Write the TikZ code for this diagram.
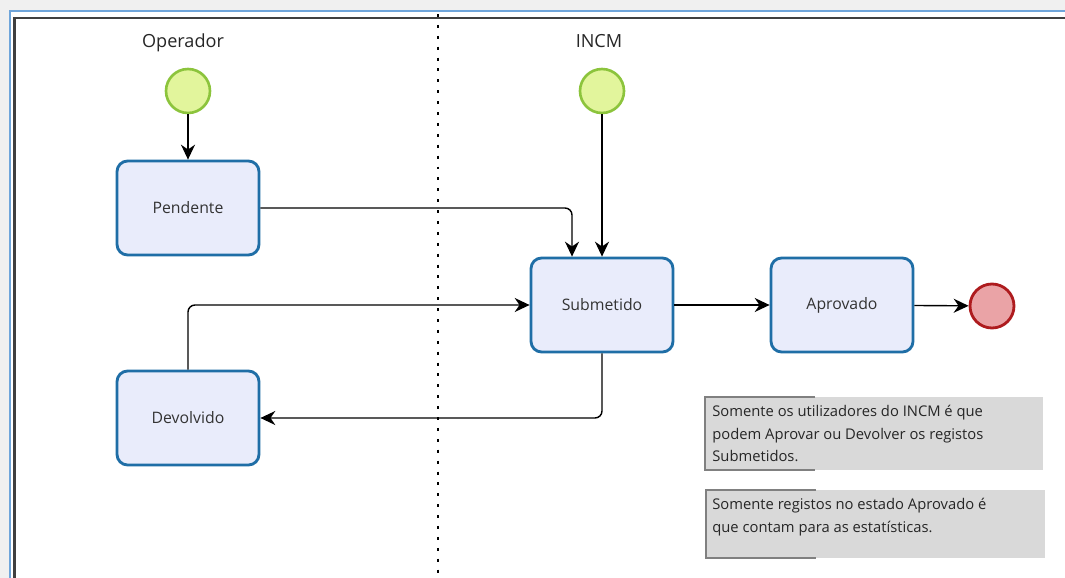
\documentclass[tikz,border=0pt]{standalone}
\usepackage{fontspec}
\setmainfont{Open Sans}
\usetikzlibrary{arrows.meta,positioning}

\definecolor{taskfill}{HTML}{E9ECFB}
\definecolor{taskline}{HTML}{1F6EA6}
\definecolor{startfill}{HTML}{E2F59C}
\definecolor{startline}{HTML}{8CC43C}
\definecolor{endfill}{HTML}{EAA3A6}
\definecolor{endline}{HTML}{AE1B1E}
\definecolor{notefill}{HTML}{D9D9D9}
\definecolor{frameblue}{HTML}{6FA5DA}

\begin{document}
\begin{tikzpicture}[x=0.02cm,y=-0.02cm,
  task/.style={draw=taskline,fill=taskfill,line width=1.6pt,rounded corners=6pt,
    minimum width=2.84cm,minimum height=1.88cm,font=\fontsize{9}{10}\selectfont,text=black!80},
  startev/.style={circle,draw=startline,fill=startfill,line width=1.5pt,minimum size=0.88cm},
  endev/.style={circle,draw=endline,fill=endfill,line width=1.6pt,minimum size=0.88cm},
  flow/.style={-{Stealth[length=8.5pt,width=8pt]},line width=0.8pt,rounded corners=4pt},
  lane/.style={font=\fontsize{10.3}{12}\selectfont,text=black!85},
  notetext/.style={anchor=north west,align=left,inner sep=0pt,text=black!85,
    font=\fontsize{8.4}{12.8}\selectfont}]
\useasboundingbox (0,0) rectangle (1065,578);

% Frame
\fill[black!6] (0,0) rectangle (1065,578);
\fill[white] (10,11) rectangle (1065,578);
\draw[frameblue,line width=1.5pt] (10,578) -- (10,11) -- (1065,11);
\draw[black!75,line width=1.3pt] (14.5,578) -- (14.5,18) -- (1065,18);

% Lane divider
\draw[line width=1.7pt,dash pattern=on 1.7pt off 4.5pt] (438,14) -- (438,578);

% Lane titles
\node[lane] (opLbl) at (183,43) {Operador};
\node[lane] (incmLbl) at (599,41) {INCM};

% Events
\node[startev] (startOp) at (188,91) {};
\node[startev] (startIncm) at (602,91) {};
\node[endev] (stop) at (992,306) {};

% States
\node[task] (pend) at (188,208) {Pendente};
\node[task] (sub) at (602,305) {Submetido};
\node[task] (apr) at (842,305) {Aprovado};
\node[task] (dev) at (188,418) {Devolvido};

% Flows
\draw[flow] (startOp) -- (pend);
\draw[flow] (startIncm) -- (sub);
\draw[flow] (pend.east) -| ([xshift=-0.6cm]sub.north);
\draw[flow] (sub) -- (apr);
\draw[flow] (apr) -- (stop);
\draw[flow] (dev.north) |- (sub.west);
\draw[flow] (sub.south) |- (dev.east);

% Notes
\fill[notefill] (705,397) rectangle (1043,470);
\draw[black!50,line width=0.8pt] (815,397) -- (705,397) -- (705,470) -- (815,470);
\node[notetext] (noteA) at (712,405)
  {Somente os utilizadores do INCM é que\\podem Aprovar ou Devolver os registos\\Submetidos.};
\fill[notefill] (706,490) rectangle (1045,558);
\draw[black!50,line width=0.8pt] (816,490) -- (706,490) -- (706,558) -- (816,558);
\node[notetext] (noteB) at (712,498)
  {Somente registos no estado Aprovado é\\que contam para as estatísticas.};
\end{tikzpicture}
\end{document}
